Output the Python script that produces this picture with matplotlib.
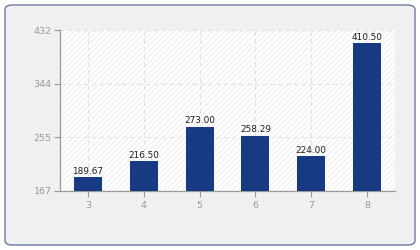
import matplotlib
matplotlib.use("Agg")
import matplotlib.pyplot as plt
import numpy as np
from matplotlib.patches import FancyBboxPatch

# datos
categorias = ["3", "4", "5", "6", "7", "8"]
valores = [189.67, 216.50, 273.00, 258.29, 224.00, 410.50]
y_min, y_max = 167, 432
ticks_y = [167, 255, 344, 432]

COLOR_BARRA = "#183a82"
COLOR_EJE = "#999999"

fig = plt.figure(figsize=(4.2, 2.5), dpi=100)
fig.patch.set_facecolor("white")

# marco exterior redondeado
marco = FancyBboxPatch((5 / 420, 5 / 250), 410 / 420, 240 / 250,
                       boxstyle="round,pad=0,rounding_size=0.018",
                       transform=fig.transFigure, facecolor="#f0f0f0",
                       edgecolor="#6c7aa6", linewidth=1.0, zorder=-10)
fig.add_artist(marco)

ax = fig.add_axes([60 / 420, 1 - 191 / 250, 335 / 420, 161 / 250])
ax.set_zorder(5)
ax.set_facecolor("white")
ax.patch.set_hatch("//////")
ax.patch.set_edgecolor("#f1f1f1")
ax.patch.set_linewidth(0)

x = np.arange(len(categorias))
ax.bar(x, valores, width=0.5, color=COLOR_BARRA, zorder=3)
for xi, v in zip(x, valores):
    ax.text(xi, v + 2, f"{v:.2f}", ha="center", va="bottom",
            fontsize=6.4, color="#1e1e1e", zorder=4)

ax.set_xlim(-0.5, len(categorias) - 0.5)
ax.set_ylim(y_min, y_max)
ax.set_xticks(x)
ax.set_xticklabels(categorias)
ax.set_yticks(np.linspace(y_min, y_max, 4))
ax.set_yticklabels([str(t) for t in ticks_y])

ax.grid(True, color="#e2e2e2", linestyle=(0, (4, 3)), linewidth=0.8, zorder=1)
ax.set_axisbelow(True)

for lado in ["top", "right"]:
    ax.spines[lado].set_visible(False)
for lado in ["left", "bottom"]:
    ax.spines[lado].set_color(COLOR_EJE)
    ax.spines[lado].set_linewidth(0.9)

ax.tick_params(axis="both", colors=COLOR_EJE, labelcolor="#999999",
               labelsize=6.8, length=4, width=0.8)
ax.tick_params(axis="y", pad=2)
ax.tick_params(axis="x", pad=3)

fig.savefig("out.png", dpi=100, facecolor=fig.get_facecolor())
